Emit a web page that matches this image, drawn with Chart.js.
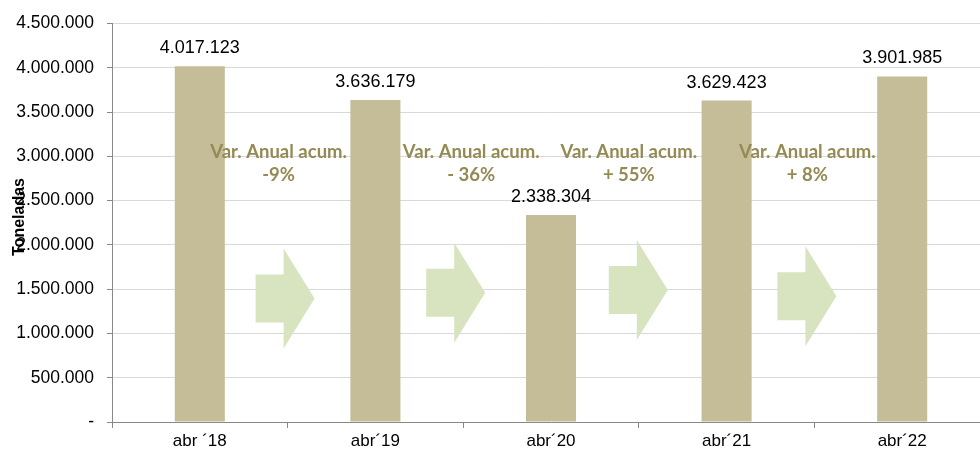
<!DOCTYPE html>
<html lang="es">
<head>
<meta charset="UTF-8">
<title>Toneladas abril</title>
<script src="https://cdn.jsdelivr.net/npm/chart.js"></script>
<style>
    html, body {
        margin: 0;
        padding: 0;
        background: #ffffff;
        overflow: hidden;
    }
    #wrap {
        position: relative;
        width: 995px;
        height: 452px;
    }
</style>
</head>
<body>
<div id="wrap"><canvas id="myBarChart"></canvas></div>

<script>
// datos
var categories = ['abr \u00b418', 'abr\u00b419', 'abr\u00b420', 'abr\u00b421', 'abr\u00b422'];
var toneladas = [4017123, 3636179, 2338304, 3629423, 3901985];
var varLabels = ['-9%', '- 36%', '+ 55%', '+ 8%'];
var yTicks = [0, 500000, 1000000, 1500000, 2000000, 2500000, 3000000, 3500000, 4000000, 4500000];

var barColor = '#c4bd97';
var arrowColor = '#d8e4bf';
var varColor = '#948a54';

function fmtMiles(v) {
    if (v === 0) return '-';
    return String(v).replace(/\B(?=(\d{3})+(?!\d))/g, '.');
}

// etiquetas de valor encima de cada barra
var valueLabels = {
    id: 'valueLabels',
    afterDatasetsDraw: function (chart) {
        var ctx = chart.ctx;
        var meta = chart.getDatasetMeta(0);
        ctx.save();
        ctx.font = '18px "Liberation Sans", Arial, sans-serif';
        ctx.fillStyle = '#000000';
        ctx.textAlign = 'center';
        ctx.textBaseline = 'bottom';
        meta.data.forEach(function (bar, i) {
            ctx.fillText(fmtMiles(toneladas[i]), bar.x, bar.y - 9);
        });
        ctx.restore();
    }
};

// flechas y textos de variacion entre barras
var varArrows = {
    id: 'varArrows',
    afterDatasetsDraw: function (chart) {
        var ctx = chart.ctx;
        var x = chart.scales.x;
        var y = chart.scales.y;
        var arrowMid = [1395000, 1460000, 1490000, 1420000];
        var arrowShift = [0, -5, 2, -5];
        var textShift = [-9, 8, -10, -7];
        ctx.save();
        for (var i = 0; i < varLabels.length; i++) {
            var mid = (x.getPixelForValue(i) + x.getPixelForValue(i + 1)) / 2;
            var cy = y.getPixelForValue(arrowMid[i]);
            var left = mid - 32 + arrowShift[i];
            var neck = left + 28;
            var tip = left + 59;
            ctx.fillStyle = arrowColor;
            ctx.beginPath();
            ctx.moveTo(left, cy - 24);
            ctx.lineTo(neck, cy - 24);
            ctx.lineTo(neck, cy - 50);
            ctx.lineTo(tip, cy);
            ctx.lineTo(neck, cy + 50);
            ctx.lineTo(neck, cy + 24);
            ctx.lineTo(left, cy + 24);
            ctx.closePath();
            ctx.fill();

            var tx = mid + textShift[i];
            ctx.fillStyle = varColor;
            ctx.font = 'bold 18.5px Lato, "Open Sans", sans-serif';
            ctx.textAlign = 'center';
            ctx.textBaseline = 'middle';
            ctx.fillText('Var. Anual acum.', tx, y.getPixelForValue(3050000));
            ctx.fillText(varLabels[i], tx, y.getPixelForValue(2790000));
        }
        ctx.restore();
    }
};

// titulo del eje y, encima de las etiquetas como en el original
var yTitle = {
    id: 'yTitle',
    afterDraw: function (chart) {
        var ctx = chart.ctx;
        ctx.save();
        ctx.translate(20, 217);
        ctx.rotate(-Math.PI / 2);
        ctx.font = 'bold 16px "Liberation Sans", Arial, sans-serif';
        ctx.fillStyle = '#000000';
        ctx.textAlign = 'center';
        ctx.textBaseline = 'middle';
        ctx.fillText('Toneladas', 0, 0);
        ctx.restore();
    }
};

var ctxBar = document.getElementById('myBarChart').getContext('2d');
var myBarChart = new Chart(ctxBar, {
    type: 'bar',
    data: {
        labels: categories,
        datasets: [{
            data: toneladas,
            backgroundColor: barColor,
            borderWidth: 0,
            barPercentage: 0.57,
            categoryPercentage: 0.5
        }]
    },
    options: {
        responsive: true,
        maintainAspectRatio: false,
        animation: false,
        layout: {
            padding: { top: 22, left: 0, right: 5, bottom: 0 }
        },
        plugins: {
            legend: { display: false },
            tooltip: { enabled: false }
        },
        scales: {
            x: {
                afterFit: function (s) { s.height = 30; },
                border: { color: '#888888', width: 1 },
                grid: {
                    offset: true,
                    drawOnChartArea: false,
                    color: '#888888',
                    tickLength: 6
                },
                ticks: {
                    color: '#000000',
                    padding: 3,
                    font: { family: '"Liberation Sans", Arial, sans-serif', size: 17 }
                }
            },
            y: {
                min: 0,
                max: 4500000,
                afterFit: function (s) { s.width = 112; },
                afterBuildTicks: function (s) {
                    s.ticks = yTicks.map(function (v) { return { value: v }; });
                },
                border: { color: '#888888', width: 1 },
                grid: {
                    color: '#d9d9d9',
                    tickColor: '#888888',
                    tickLength: 5
                },
                ticks: {
                    color: '#000000',
                    padding: 13,
                    font: { family: '"Liberation Sans", Arial, sans-serif', size: 17.5 },
                    callback: function (v) { return fmtMiles(v); }
                }
            }
        }
    },
    plugins: [valueLabels, varArrows, yTitle]
});
</script>
</body>
</html>
